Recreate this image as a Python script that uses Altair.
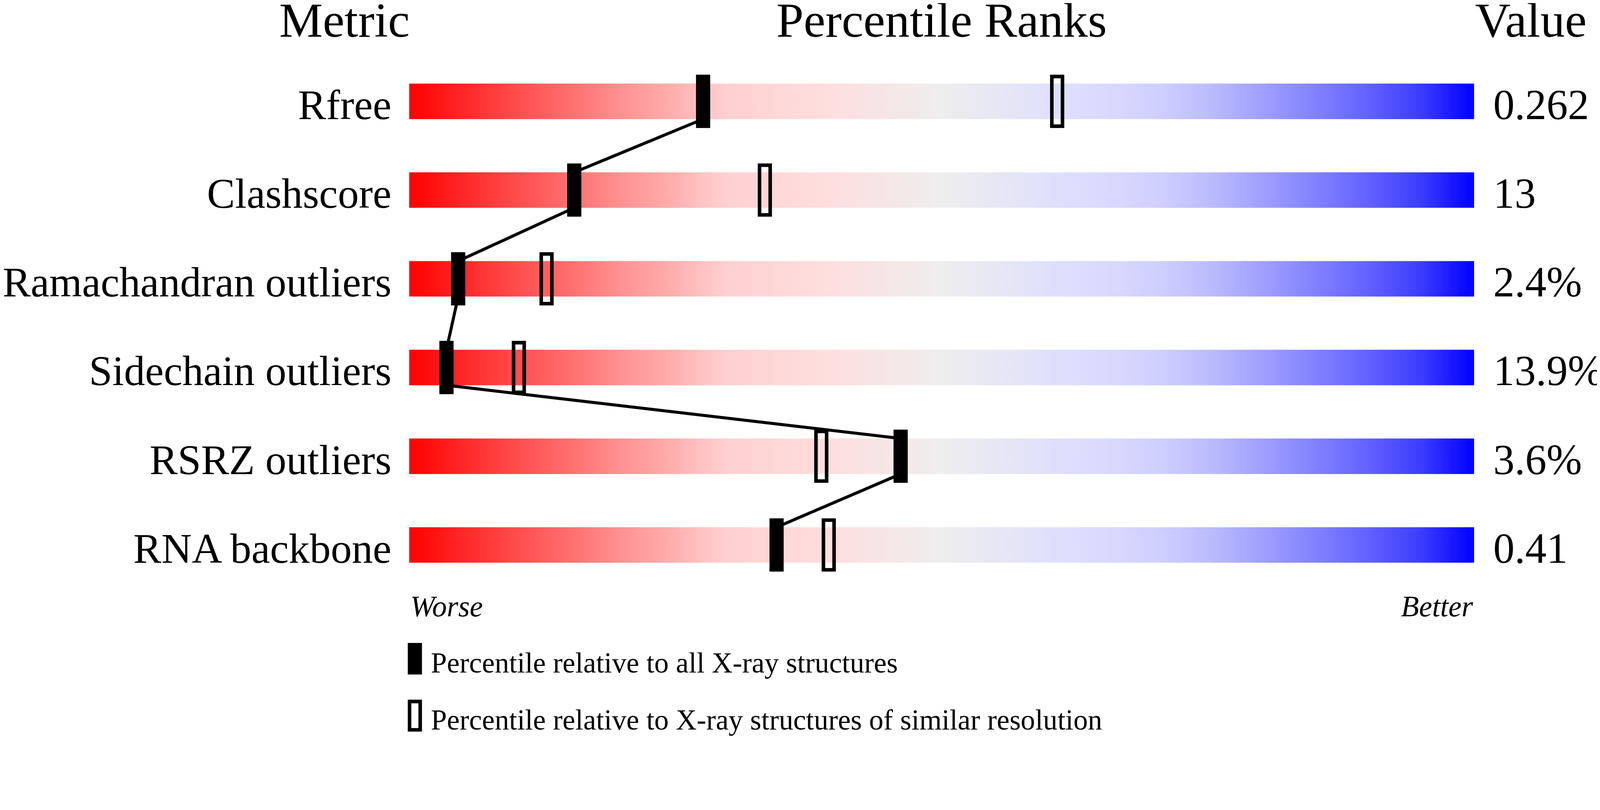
import altair as alt
import pandas as pd

# ---------------- data ----------------
metrics = ["Rfree", "Clashscore", "Ramachandran outliers", "Sidechain outliers",
           "RSRZ outliers", "RNA backbone"]
value_labels = ["0.262", "13", "2.4%", "13.9%", "3.6%", "0.41"]
pct_all = [27.6, 15.5, 4.6, 3.5, 46.15, 34.5]      # percentile vs all X-ray structures
pct_res = [60.85, 33.4, 12.9, 10.3, 38.7, 39.4]    # percentile vs similar resolution
headers = ["Metric", "Percentile Ranks", "Value"]
scale_ends = ["Worse", "Better"]
legend_labels = ["Percentile relative to all X-ray structures",
                 "Percentile relative to X-ray structures of similar resolution"]

grad_offsets = [0.0, 0.05, 0.10, 0.15, 0.20, 0.25, 0.28, 0.30, 0.35, 0.40, 0.45, 0.50,
                0.55, 0.60, 0.65, 0.70, 0.75, 0.80, 0.85, 0.90, 0.95, 1.0]
grad_colors = ["#FF0000", "#FF2727", "#FF4C4C", "#FF6E6E", "#FF9292", "#FFB0B0", "#FFC6C6",
               "#FFD0D0", "#FFD8D8", "#FEDFDF", "#F6E6E6", "#EEEEEE",
               "#E7E7F4", "#E0E0FB", "#DADAFF", "#D0D0FF", "#BDBDFD", "#A0A0FF",
               "#8282FF", "#6262FF", "#3C3CFF", "#0000FF"]

FONT = "Liberation Serif"

W, H = 4490, 1966
# percentile axis: 0 at plot x 1144, 100 at plot x 4144 (30 px per unit)
X0, XS = 1144, 30.0
# row axis: row 0 centre, 250 px per row
Y0, YS = 178, 250.0

xs = alt.Scale(domain=[-X0 / XS, (W - X0) / XS], nice=False, zero=False)
ys = alt.Scale(domain=[-Y0 / YS, (H - Y0) / YS], nice=False, zero=False, reverse=True)

PX = 1 / XS   # one pixel in percentile units
RY = 1 / YS   # one pixel in row units

rows = list(range(len(metrics)))

bars = pd.DataFrame({"x": [0] * len(rows), "x2": [100] * len(rows),
                     "y": [r - 50 * RY for r in rows], "y2": [r + 50 * RY for r in rows]})

segs = pd.DataFrame({
    "x": pct_all[:-1], "x2": pct_all[1:],
    "y": [r + 50 * RY for r in rows[:-1]], "y2": [r + 1 - 50 * RY for r in rows[:-1]],
})

filled = pd.DataFrame({
    "x": [p - 20 * PX for p in pct_all], "x2": [p + 20 * PX for p in pct_all],
    "y": [r - 75 * RY for r in rows], "y2": [r + 75 * RY for r in rows],
})
opened = pd.DataFrame({
    "x": [p - 15 * PX for p in pct_res], "x2": [p + 15 * PX for p in pct_res],
    "y": [r - 70 * RY for r in rows], "y2": [r + 70 * RY for r in rows],
})

# legend sample markers
leg_x = 16 * PX
leg_filled = pd.DataFrame({"x": [leg_x - 20 * PX], "x2": [leg_x + 20 * PX],
                           "y": [(1812 - 286) * RY], "y2": [(1901 - 286) * RY]})
leg_open = pd.DataFrame({"x": [leg_x - 15 * PX], "x2": [leg_x + 15 * PX],
                         "y": [(1977 - 286) * RY], "y2": [(2057 - 286) * RY]})


def rect_enc(ch):
    return ch.encode(
        x=alt.X("x:Q", scale=xs, axis=None),
        x2="x2:Q",
        y=alt.Y("y:Q", scale=ys, axis=None),
        y2="y2:Q",
    )


gradient = alt.Gradient(
    gradient="linear",
    stops=[alt.GradientStop(offset=o, color=c) for o, c in zip(grad_offsets, grad_colors)],
    x1=0, x2=1, y1=0, y2=0,
)

bar_layer = rect_enc(alt.Chart(bars).mark_rect(color=gradient, strokeWidth=0))
seg_layer = alt.Chart(segs).mark_rule(color="black", strokeWidth=8.5).encode(
    x=alt.X("x:Q", scale=xs, axis=None), x2="x2:Q",
    y=alt.Y("y:Q", scale=ys, axis=None), y2="y2:Q",
)
filled_layer = rect_enc(alt.Chart(filled).mark_rect(color="black", strokeWidth=0))
open_layer = rect_enc(alt.Chart(opened).mark_rect(fill="transparent", stroke="black",
                                                   strokeWidth=10))
leg_f_layer = rect_enc(alt.Chart(leg_filled).mark_rect(color="black", strokeWidth=0))
leg_o_layer = rect_enc(alt.Chart(leg_open).mark_rect(fill="transparent", stroke="black",
                                                      strokeWidth=10))


def text_layer(df, align, size, style="normal"):
    return alt.Chart(df).mark_text(
        align=align, baseline="alphabetic", font=FONT, fontSize=size,
        fontStyle=style, color="black",
    ).encode(
        x=alt.X("x:Q", scale=xs, axis=None),
        y=alt.Y("y:Q", scale=ys, axis=None),
        text="t:N",
    )


header_y = (104 - 286) * RY
hdr_left = text_layer(pd.DataFrame({"x": [0.05], "y": [header_y], "t": [headers[0]]}), "right", 138)
hdr_mid = text_layer(pd.DataFrame({"x": [50], "y": [header_y], "t": [headers[1]]}), "center", 138)
hdr_right = text_layer(pd.DataFrame({"x": [100.1], "y": [header_y], "t": [headers[2]]}), "left", 138)

labels = text_layer(pd.DataFrame({"x": [-50 * PX] * len(rows),
                                  "y": [r + 50 * RY for r in rows], "t": metrics}), "right", 118.5)
vals = text_layer(pd.DataFrame({"x": [100 + 54 * PX] * len(rows),
                                "y": [r + 50 * RY for r in rows], "t": value_labels}), "left", 120)

end_y = (1737 - 286) * RY
worse = text_layer(pd.DataFrame({"x": [0.1], "y": [end_y], "t": [scale_ends[0]]}), "left", 83, "italic")
better = text_layer(pd.DataFrame({"x": [99.9], "y": [end_y], "t": [scale_ends[1]]}), "right", 83, "italic")

leg_text = text_layer(pd.DataFrame({"x": [61 * PX, 61 * PX],
                                    "y": [(1896 - 286) * RY, (2056 - 286) * RY],
                                    "t": legend_labels}), "left", 81)

chart = alt.layer(
    bar_layer, seg_layer, filled_layer, open_layer,
    hdr_left, hdr_mid, hdr_right, labels, vals, worse, better,
    leg_f_layer, leg_o_layer, leg_text,
).properties(
    width=W, height=H, padding=0,
    autosize=alt.AutoSizeParams(type="none"),
    background="white",
).configure_view(strokeWidth=0)

chart.save("out.html", embed_options={"renderer": "svg", "actions": False})
